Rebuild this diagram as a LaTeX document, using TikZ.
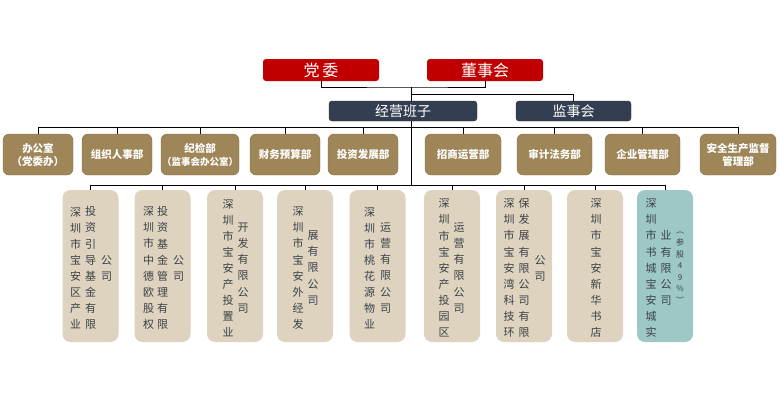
\documentclass[tikz,border=0pt]{standalone}
\usepackage{fontspec}
\setmainfont{Noto Sans CJK SC}
\usetikzlibrary{backgrounds}
\definecolor{redbox}{HTML}{C00000}
\definecolor{navybox}{HTML}{333F50}
\definecolor{brownbox}{HTML}{9E8658}
\definecolor{brownedge}{HTML}{8A7248}
\definecolor{beigebox}{HTML}{DDD3BF}
\definecolor{tealbox}{HTML}{9DC8C6}
\definecolor{coltext}{HTML}{3C4048}
\tikzset{
  topbox/.style={fill=redbox, rounded corners=3pt, minimum width=116pt, minimum height=22pt,
    text=white, font=\fontsize{16}{16}\selectfont, inner sep=0pt},
  leadbox/.style={fill=navybox, draw=navybox!80!black, rounded corners=3pt, minimum height=20pt,
    text=white, font=\fontsize{14}{14}\selectfont, inner sep=0pt},
  dept/.style={fill=brownbox, draw=brownedge, rounded corners=6pt, minimum height=41pt,
    text=white, font=\bfseries\fontsize{10.5}{13}\selectfont, align=center, inner sep=0pt},
  comp/.style={fill=beigebox, rounded corners=8pt, minimum width=56pt, minimum height=152pt, inner sep=0pt},
  vcol/.style={font=\fontsize{11}{16.1}\selectfont, text=coltext, align=center, inner sep=0pt, text width=12pt},
  smallcol/.style={font=\fontsize{8}{11.6}\selectfont, text=coltext, align=center, inner sep=0pt, text width=10pt},
  link/.style={draw=black, line width=1pt},
}
\begin{document}
\begin{tikzpicture}[x=1pt, y=-1pt]
\useasboundingbox (0,0) rectangle (780,400);
% top
\node[topbox] (dw) at (321,70) {党\hspace{3pt}委};
\node[topbox] (dsh) at (485,70) {董事会};
\node[leadbox, minimum width=148pt] (jy) at (403,111) {经营班子};
\node[leadbox, minimum width=115pt] (js) at (573.5,111) {监事会};
% departments
\node[dept, minimum width=70pt] (d1) at (38,154.5) {办公室\\（党委办）};
\node[dept, minimum width=70pt] (d2) at (117,154.5) {组织人事部};
\node[dept, minimum width=78pt] (d3) at (200,154.5) {纪检部\\{\fontsize{9.5}{13}\selectfont（监事会办公室）}};
\node[dept, minimum width=70pt] (d4) at (285,154.5) {财务预算部};
\node[dept, minimum width=70pt] (d5) at (363,154.5) {投资发展部};
\node[dept, minimum width=76pt] (d6) at (463,154.5) {招商运营部};
\node[dept, minimum width=75pt] (d7) at (554.5,154.5) {审计法务部};
\node[dept, minimum width=75pt] (d8) at (642.5,154.5) {企业管理部};
\node[dept, minimum width=76pt] (d9) at (738,154.5) {安全生产监督\\管理部};
% companies
\node[comp] (b1) at (90.5,266) {};
\node[comp] (b2) at (162.5,266) {};
\node[comp] (b3) at (235,266) {};
\node[comp] (b4) at (305,266) {};
\node[comp] (b5) at (377.5,266) {};
\node[comp] (b6) at (452,266) {};
\node[comp] (b7) at (524,266) {};
\node[comp] (b8) at (595,266) {};
\node[comp, fill=tealbox] (b9) at (665,266) {};
% company texts
\node[vcol] (t1a) at ([shift={(-15,2)}]b1.center) {深\\圳\\市\\宝\\安\\区\\产\\业};
\node[vcol] (t1b) at ([shift={(0,2)}]b1.center) {投\\资\\引\\导\\基\\金\\有\\限};
\node[vcol] (t1c) at ([shift={(16,2)}]b1.center) {公\\司};
\node[vcol] (t2a) at ([shift={(-14,2)}]b2.center) {深\\圳\\市\\中\\德\\欧\\股\\权};
\node[vcol] (t2b) at ([shift={(0,2)}]b2.center) {投\\资\\基\\金\\管\\理\\有\\限};
\node[vcol] (t2c) at ([shift={(16,2)}]b2.center) {公\\司};
\node[vcol] (t3a) at ([shift={(-7,2)}]b3.center) {深\\圳\\市\\宝\\安\\产\\投\\置\\业};
\node[vcol] (t3b) at ([shift={(8,2)}]b3.center) {开\\发\\有\\限\\公\\司};
\node[vcol] (t4a) at ([shift={(-7,2)}]b4.center) {深\\圳\\市\\宝\\安\\外\\经\\发};
\node[vcol] (t4b) at ([shift={(8,2)}]b4.center) {展\\有\\限\\公\\司};
\node[vcol] (t5a) at ([shift={(-8,2)}]b5.center) {深\\圳\\市\\桃\\花\\源\\物\\业};
\node[vcol] (t5b) at ([shift={(8,2)}]b5.center) {运\\营\\有\\限\\公\\司};
\node[vcol] (t6a) at ([shift={(-8,2)}]b6.center) {深\\圳\\市\\宝\\安\\产\\投\\园\\区};
\node[vcol] (t6b) at ([shift={(7,2)}]b6.center) {运\\营\\有\\限\\公\\司};
\node[vcol] (t7a) at ([shift={(-15,2)}]b7.center) {深\\圳\\市\\宝\\安\\湾\\科\\技\\环};
\node[vcol] (t7b) at ([shift={(0,2)}]b7.center) {保\\发\\展\\有\\限\\公\\司\\有\\限};
\node[vcol] (t7c) at ([shift={(16,2)}]b7.center) {公\\司};
\node[vcol] (t8a) at ([shift={(1,2)}]b8.center) {深\\圳\\市\\宝\\安\\新\\华\\书\\店};
\node[vcol] (t9a) at ([shift={(-14,2)}]b9.center) {深\\圳\\市\\书\\城\\宝\\安\\城\\实};
\node[vcol] (t9b) at ([shift={(1,2)}]b9.center) {业\\有\\限\\公\\司};
\node[smallcol] (t9c) at ([shift={(15,2)}]b9.center) {︵\\参\\股\\4\\9\\\%\\︶};
% connectors
\begin{scope}[on background layer]
\coordinate (j1) at (411,87);
\coordinate (j2) at (411,94);
\coordinate (db) at (411,127);
\coordinate (bb) at (411,185);
\draw[link] (dw.south) |- (j1) -| (dsh.south);
\draw[link] (j1) -- (bb);
\draw[link] (j2) -| (js.north);
\draw[link] (d1.north |- db) -- (d9.north |- db);
\foreach \d in {d1,d2,d3,d4,d5,d6,d7,d8,d9} \draw[link] (\d.north) -- (\d.north |- db);
\draw[link] (b1.north |- bb) -- (b9.north |- bb);
\foreach \b in {b1,b2,b3,b4,b5,b6,b7,b8,b9} \draw[link] (\b.north) -- (\b.north |- bb);
\end{scope}
\end{tikzpicture}
\end{document}
